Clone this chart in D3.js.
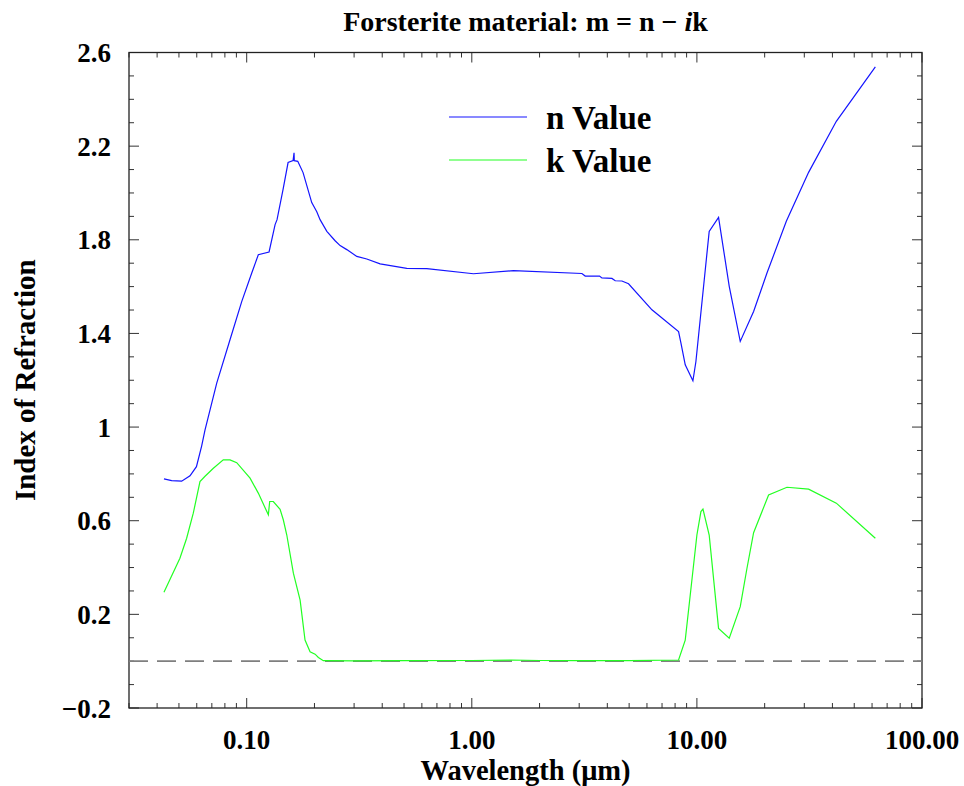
<!DOCTYPE html>
<html>
<head>
<meta charset="utf-8">
<script src="https://cdn.jsdelivr.net/npm/d3@7"></script>
<style>
  html, body { margin: 0; padding: 0; background: #fff; }
  svg { display: block; }
  text { font-family: "Liberation Serif", "Times New Roman", serif; font-weight: bold; fill: #000; }
</style>
</head>
<body>
<svg id="chart" width="964" height="786"></svg>
<script>
// ---- data ----
const nWavelength = [0.0429,0.0464,0.0514,0.056,0.0598,0.0631,0.0653,0.0736,0.0843,0.0951,0.1053,0.1126,0.1257,0.1337,0.1364,0.145,0.1527,0.1607,0.1623,0.1627,0.1686,0.178,0.1945,0.2048,0.2118,0.227,0.247,0.260,0.2784,0.3084,0.3416,0.3915,0.5143,0.631,1.017,1.531,3.084,3.19,3.692,3.784,4.193,4.337,4.645,4.969,6.313,8.29,8.495,8.875,9.60,9.90,11.34,12.48,13.92,15.58,17.86,20.48,24.96,31.35,41.63,62.05];
const nValues     = [0.779,0.771,0.769,0.792,0.831,0.92,0.988,1.188,1.373,1.537,1.658,1.736,1.748,1.865,1.886,2.014,2.13,2.138,2.172,2.138,2.135,2.087,1.959,1.92,1.886,1.836,1.796,1.775,1.758,1.729,1.718,1.697,1.678,1.677,1.655,1.668,1.656,1.645,1.645,1.637,1.635,1.625,1.624,1.612,1.501,1.408,1.359,1.266,1.198,1.28,1.836,1.896,1.601,1.366,1.494,1.658,1.879,2.088,2.306,2.539];

const kWavelength = [0.0429,0.0505,0.0541,0.0579,0.0620,0.0653,0.0711,0.0787,0.0843,0.0903,0.1035,0.1126,0.1248,0.1265,0.1313,0.1407,0.1455,0.1507,0.1612,0.1727,0.1816,0.1912,0.2013,0.2082,0.2191,0.3,0.5,1.0,1.5,2.0,3.0,5.0,8.29,8.875,10.0,10.42,10.64,11.34,12.48,13.92,15.58,16.69,17.86,20.82,25.13,31.35,41.63,62.05];
const kValues     = [0.294,0.44,0.525,0.632,0.767,0.79,0.824,0.86,0.86,0.848,0.782,0.718,0.625,0.682,0.682,0.649,0.603,0.539,0.376,0.261,0.09,0.04,0.03,0.016,0.002,0.001,0.002,0.003,0.005,0.003,0.002,0.002,0.005,0.09,0.539,0.639,0.65,0.539,0.14,0.098,0.233,0.397,0.549,0.71,0.743,0.735,0.675,0.525];

const xMajorTicks = [0.1, 1, 10, 100];
const xTickLabels = ["0.10", "1.00", "10.00", "100.00"];
const yMajorTicks = [-0.2, 0.2, 0.6, 1.0, 1.4, 1.8, 2.2, 2.6];
const yTickLabels = ["\u22120.2", "0.2", "0.6", "1", "1.4", "1.8", "2.2", "2.6"];
const seriesNames = ["n Value", "k Value"];
const seriesColors = ["#1414ff", "#22ff22"];

// ---- layout ----
const L = 129, R = 922, T = 52.5, B = 708;
const svg = d3.select("#chart");

const x = d3.scaleLog().domain([0.03, 100]).range([L, R]);
const y = d3.scaleLinear().domain([-0.2, 2.6]).range([B, T]);

// minor ticks
const xMinor = [];
for (let dec = 0.01; dec < 100; dec *= 10) {
  for (let m = 1; m <= 9; m++) {
    const v = +(m * dec).toPrecision(3);
    if (v >= 0.03 && v <= 100 && !xMajorTicks.includes(v)) xMinor.push(v);
  }
}
const yMinor = d3.range(-0.2, 2.6001, 0.1).map(v => +v.toFixed(2)).filter(v => !yMajorTicks.some(t => Math.abs(t - v) < 1e-6));

const tickColor = "#333";
const majorLen = 10, minorLen = 5;

// axes (inward ticks on all four sides)
const gx = svg.append("g");
function drawTicks(vals, len) {
  vals.forEach(v => {
    gx.append("line").attr("x1", x(v)).attr("x2", x(v)).attr("y1", B).attr("y2", B - len).attr("stroke", tickColor).attr("stroke-width", 1);
    gx.append("line").attr("x1", x(v)).attr("x2", x(v)).attr("y1", T).attr("y2", T + len).attr("stroke", tickColor).attr("stroke-width", 1);
  });
}
drawTicks(xMinor, minorLen);
drawTicks(xMajorTicks, majorLen);
function drawYTicks(vals, len) {
  vals.forEach(v => {
    gx.append("line").attr("y1", y(v)).attr("y2", y(v)).attr("x1", L).attr("x2", L + len).attr("stroke", tickColor).attr("stroke-width", 1);
    gx.append("line").attr("y1", y(v)).attr("y2", y(v)).attr("x1", R).attr("x2", R - len).attr("stroke", tickColor).attr("stroke-width", 1);
  });
}
drawYTicks(yMinor, minorLen);
drawYTicks(yMajorTicks, majorLen);

// frame
svg.append("rect").attr("x", L).attr("y", T).attr("width", R - L).attr("height", B - T)
  .attr("fill", "none").attr("stroke", "#222").attr("stroke-width", 1.3);

// tick labels
svg.append("g").selectAll("text").data(xMajorTicks).join("text")
  .attr("x", d => x(d)).attr("y", 749).attr("text-anchor", "middle")
  .style("font-size", "27px").text((d, i) => xTickLabels[i]);
svg.append("g").selectAll("text").data(yMajorTicks).join("text")
  .attr("x", 111).attr("y", d => y(d) + 9.5).attr("text-anchor", "end")
  .style("font-size", "27px").text((d, i) => yTickLabels[i]);

// axis titles
svg.append("text").attr("x", (L + R) / 2).attr("y", 780).attr("text-anchor", "middle")
  .style("font-size", "28.5px").text("Wavelength (\u03BCm)");
svg.append("text").attr("transform", "translate(35," + ((T + B) / 2) + ") rotate(-90)")
  .attr("text-anchor", "middle").style("font-size", "29px").text("Index of Refraction");

// title
const title = svg.append("text").attr("x", (L + R) / 2).attr("y", 31).attr("text-anchor", "middle").style("font-size", "28px");
title.append("tspan").text("Forsterite material: m = n \u2212 ");
title.append("tspan").style("font-style", "italic").text("i");
title.append("tspan").text("k");

// zero reference line
svg.append("line").attr("x1", L).attr("x2", R).attr("y1", y(0)).attr("y2", y(0))
  .attr("stroke", "#7f7f7f").attr("stroke-width", 1.8).attr("stroke-dasharray", "19,9");

// curves
const line = d3.line().x(d => x(d[0])).y(d => y(d[1]));
const nData = nWavelength.map((w, i) => [w, nValues[i]]);
const kData = kWavelength.map((w, i) => [w, kValues[i]]);
svg.append("path").datum(kData).attr("d", line).attr("fill", "none").attr("stroke", seriesColors[1]).attr("stroke-width", 1.2);
svg.append("path").datum(nData).attr("d", line).attr("fill", "none").attr("stroke", seriesColors[0]).attr("stroke-width", 1.2);

// legend
const legY = [117, 160];
seriesNames.forEach((name, i) => {
  svg.append("line").attr("x1", 449).attr("x2", 527).attr("y1", legY[i]).attr("y2", legY[i])
    .attr("stroke", seriesColors[i]).attr("stroke-width", 1.2);
  svg.append("text").attr("x", 546).attr("y", legY[i] + 12).style("font-size", "33px").text(name);
});
</script>
</body>
</html>
